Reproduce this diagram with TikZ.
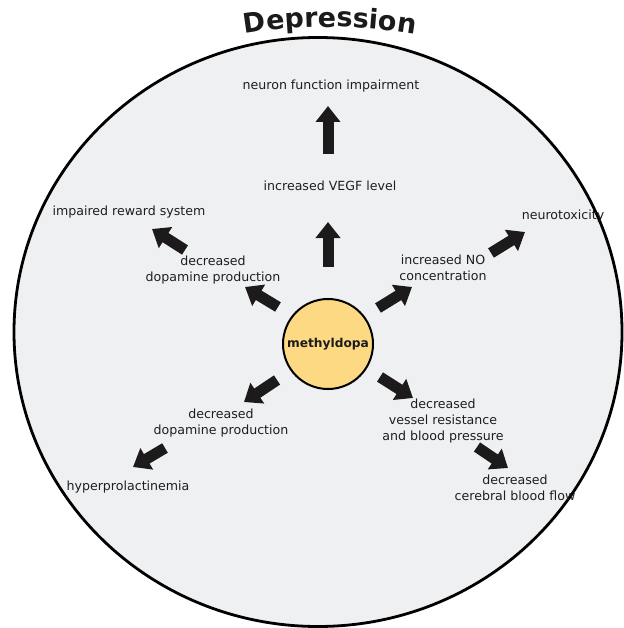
\documentclass[tikz,border=0pt]{standalone}
\usepackage{fontspec}
\setmainfont{DejaVu Sans}
\usetikzlibrary{arrows.meta,decorations.text}
\definecolor{bgfill}{RGB}{239,240,242}
\definecolor{drugfill}{RGB}{252,217,130}
\definecolor{ink}{RGB}{28,26,26}
\definecolor{txt}{RGB}{30,30,30}
\begin{document}
\begin{tikzpicture}[x=1pt,y=1pt,
  lbl/.style={inner sep=0pt, align=center, text=txt, font=\fontsize{12.6}{15.8}\selectfont},
  fat/.style={draw=ink, line width=11pt, -{Triangle[length=16pt,width=24pt]}}]
\useasboundingbox (0,0) rectangle (623,-628);
% outer region
\draw[fill=bgfill, line width=2.8pt] (318,-332) ellipse[x radius=304pt, y radius=294.5pt];
% title
\path[decorate, decoration={text along path, text align=center,
  text={|\fontsize{27}{27}\selectfont\bfseries\color{ink}|Depression}}]
  (330,-547) ++(110:520pt) arc[start angle=110, end angle=70, radius=520pt];
% central drug
\node[circle, draw=black, line width=2pt, fill=drugfill, minimum size=90pt, inner sep=0pt,
  font=\fontsize{12.2}{14}\selectfont\bfseries, text=ink] (drug) at (328,-344) {methyldopa};
% labels
\node[lbl] (neuron) at (331,-86) {neuron function impairment};
\node[lbl] (vegf) at (330,-186) {increased VEGF level};
\node[lbl] (reward) at (129,-212) {impaired reward system};
\node[lbl] (dopup) at (213,-270) {decreased\\dopamine production};
\node[lbl] (no) at (443,-268) {increased NO\\concentration};
\node[lbl] (neurotox) at (563,-216) {neurotoxicity};
\node[lbl] (doplow) at (221,-423) {decreased\\dopamine production};
\node[lbl] (hyper) at (128,-487) {hyperprolactinemia};
\node[lbl] (vessel) at (443,-421) {decreased\\vessel resistance\\and blood pressure};
\node[lbl] (cereb) at (515,-488) {decreased\\cerebral blood flow};
% arrow end points
\coordinate (a1s) at (328,-154); \coordinate (a1e) at (328,-106);
\coordinate (a2s) at (328,-267); \coordinate (a2e) at (328,-222);
\coordinate (a3s) at (278,-307); \coordinate (a3e) at (245,-287);
\coordinate (a4s) at (185,-250); \coordinate (a4e) at (152,-229);
\coordinate (a5s) at (378,-308); \coordinate (a5e) at (412,-287);
\coordinate (a6s) at (491,-253); \coordinate (a6e) at (525,-232);
\coordinate (a7s) at (277,-380); \coordinate (a7e) at (244,-402);
\coordinate (a8s) at (165,-448); \coordinate (a8e) at (133,-467);
\coordinate (a9s) at (380,-377); \coordinate (a9e) at (413,-398);
\coordinate (a10s) at (477,-447); \coordinate (a10e) at (508,-468);
\foreach \i in {1,...,10} {\draw[fat] (a\i s) -- (a\i e);}
\end{tikzpicture}
\end{document}
